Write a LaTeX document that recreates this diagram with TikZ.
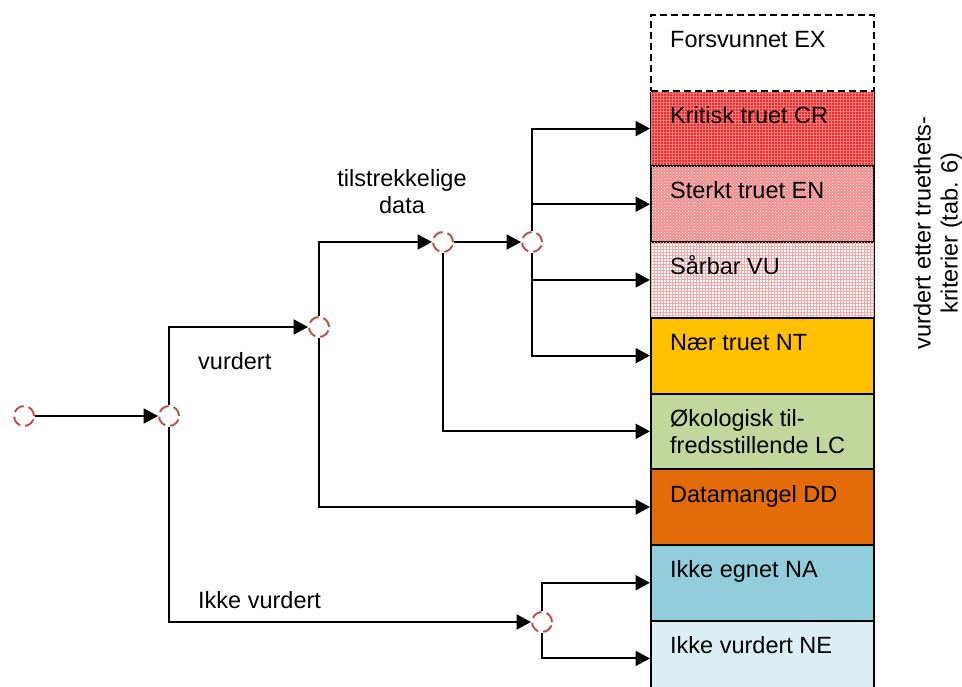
\documentclass[tikz,border=0pt]{standalone}
\usepackage{fontspec}
\setmainfont{Liberation Sans}
\usetikzlibrary{arrows.meta,patterns}

\definecolor{junc}{HTML}{C0504D}
\definecolor{crbase}{HTML}{EE2E2E}
\definecolor{crgrid}{HTML}{F67A7A}
\definecolor{enbase}{HTML}{F38C8C}
\definecolor{vugrid}{HTML}{F4A8A8}
\definecolor{ntfill}{HTML}{FFC000}
\definecolor{lcfill}{HTML}{C3D69B}
\definecolor{ddfill}{HTML}{E36C09}
\definecolor{nafill}{HTML}{92CDDC}
\definecolor{nefill}{HTML}{DBEEF4}

\begin{document}
\begin{tikzpicture}[x=1pt, y=-1pt,
  font=\fontsize{23.5}{27}\selectfont,
  junction/.style={circle, draw=junc, dash pattern=on 11pt off 5pt,
    line width=2pt, minimum size=20pt, inner sep=0pt},
  cat/.style={draw=black, line width=2pt, minimum width=223pt,
    minimum height=75.7pt, inner sep=0pt, anchor=north west},
  cattext/.style={anchor=base west, inner sep=0pt},
  flow/.style={line width=2pt, -{Triangle[length=14.5pt,width=15pt]}},
  tag/.style={anchor=base west, inner sep=0pt}]

\useasboundingbox (0,0) rectangle (962,687);
\clip (0,0) rectangle (962,687);

% category column
\node[cat, fill=crbase, postaction={pattern=grid, pattern color=crgrid}] (cr) at (650,89.7) {};
\node[cat, fill=enbase, postaction={pattern=crosshatch dots, pattern color=white}] (en) at (650,165.4) {};
\node[cat, fill=white, postaction={pattern=grid, pattern color=vugrid}] (vu) at (650,241.1) {};
\node[cat, fill=ntfill] (nt) at (650,316.8) {};
\node[cat, fill=lcfill] (lc) at (650,392.5) {};
\node[cat, fill=ddfill] (dd) at (650,468.2) {};
\node[cat, fill=nafill] (na) at (650,543.9) {};
\node[cat, fill=nefill] (ne) at (650,619.6) {};
\node[cat, dash pattern=on 7pt off 4pt, preaction={draw=white, solid}] (ex) at (650,14) {};

\node[cattext] (ext) at (670,48) {Forsvunnet EX};
\node[cattext] (crt) at (670,123.5) {Kritisk truet CR};
\node[cattext] (ent) at (670,199) {Sterkt truet EN};
\node[cattext] (vut) at (670,275) {Sårbar VU};
\node[cattext] (ntt) at (670,350.5) {Nær truet NT};
\node[cattext, align=left] (lct) at (670,453) {Økologisk til-\\fredsstillende LC};
\node[cattext] (ddt) at (670,502) {Datamangel DD};
\node[cattext] (nat) at (670,577.5) {Ikke egnet NA};
\node[cattext] (net) at (670,653) {Ikke vurdert NE};

% side note
\node[rotate=90, align=center] (side) at (938,233)
  {vurdert etter truethets-\\kriterier (tab. 6)};

% decision points
\node[junction] (c0) at (24,416) {};
\node[junction] (c1) at (169,416) {};
\node[junction] (c2) at (319,327) {};
\node[junction] (c3) at (443,242) {};
\node[junction] (c4) at (532,242) {};
\node[junction] (c5) at (542,622) {};

% branch labels
\node[align=center] (suff) at (402,192) {tilstrekkelige\\data};
\node[tag] (ass) at (198,370) {vurdert};
\node[tag] (nass) at (198,608) {Ikke vurdert};

% connectors
\draw[flow] (c0) -- (c1);
\draw[flow] (c1.north) |- (c2);
\draw[flow] (c1.south) |- (c5);
\draw[flow] (c2.north) |- (c3);
\draw[flow] (c2.south) |- (dd.west);
\draw[flow] (c3) -- (c4);
\draw[flow] (c3.south) |- (lc.west);
\draw[flow] (c4.north) |- (cr.west);
\draw[flow] (c4.north) |- (en.west);
\draw[flow] (c4.south) |- (vu.west);
\draw[flow] (c4.south) |- (nt.west);
\draw[flow] (c5.north) |- (na.west);
\draw[flow] (c5.south) |- (ne.west);
\end{tikzpicture}
\end{document}
